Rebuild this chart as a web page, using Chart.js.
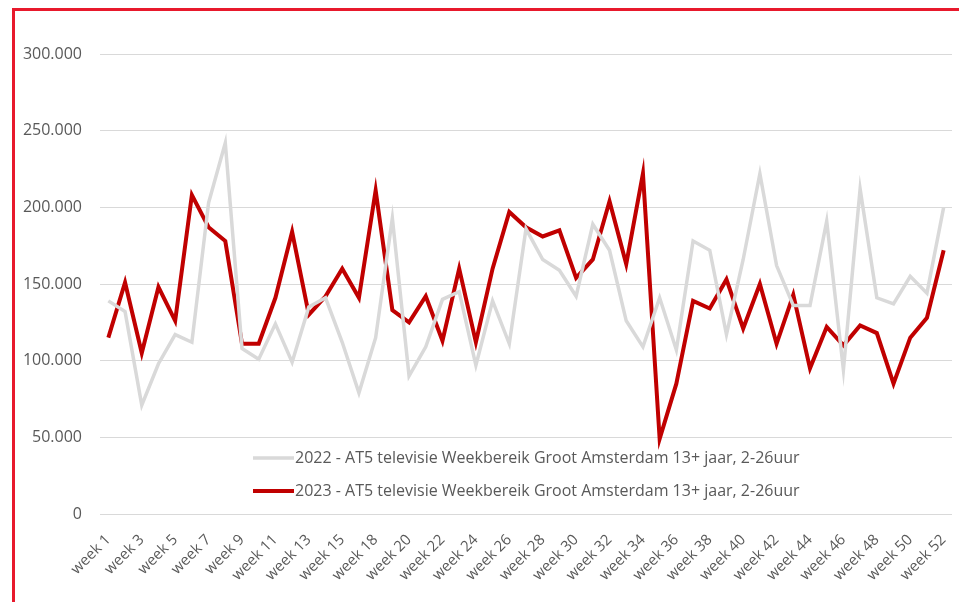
<!DOCTYPE html>
<html>
<head>
<meta charset="utf-8">
<script src="https://cdn.jsdelivr.net/npm/chart.js@4"></script>
<style>
  html, body { margin: 0; padding: 0; background: #fff; overflow: hidden; }
  #wrap { position: absolute; left: 0; top: 0; width: 959px; height: 602px; }
  #frame {
    position: absolute; left: 12px; top: 8px; width: 1000px; height: 700px;
    border: 3px solid #e8192c; box-sizing: border-box;
  }
  canvas { position: absolute; left: 0; top: 0; }
</style>
</head>
<body>
<div id="wrap">
  <div id="frame"></div>
  <canvas id="myChart" width="959" height="602"></canvas>
</div>
<script>
// weeks on the x axis (week 17 is not in the source table)
const weeks = [
  'week 1', 'week 2', 'week 3', 'week 4', 'week 5', 'week 6', 'week 7', 'week 8',
  'week 9', 'week 10', 'week 11', 'week 12', 'week 13', 'week 14', 'week 15', 'week 16',
  'week 18', 'week 19', 'week 20', 'week 21', 'week 22', 'week 23', 'week 24', 'week 25',
  'week 26', 'week 27', 'week 28', 'week 29', 'week 30', 'week 31', 'week 32', 'week 33',
  'week 34', 'week 35', 'week 36', 'week 37', 'week 38', 'week 39', 'week 40', 'week 41',
  'week 42', 'week 43', 'week 44', 'week 45', 'week 46', 'week 47', 'week 48', 'week 49',
  'week 50', 'week 51', 'week 52'
];

// weekly reach 2022 (grey line)
const reach2022 = [
  139000, 132000, 71000, 98000, 117000, 112000, 203000, 242000, 108000, 101000,
  124000, 99000, 135000, 141000, 112000, 79000, 115000, 193000, 90000, 109000,
  140000, 145000, 97000, 139000, 111000, 186000, 166000, 159000, 142000, 189000,
  172000, 126000, 109000, 141000, 107000, 178000, 172000, 117000, 166000, 222000,
  162000, 136000, 136000, 191000, 94000, 212000, 141000, 137000, 155000, 144000,
  200000
];

// weekly reach 2023 (red line)
const reach2023 = [
  115000, 151000, 105000, 148000, 126000, 208000, 187000, 178000, 111000, 111000,
  141000, 184000, 130000, 142000, 160000, 141000, 211000, 133000, 125000, 142000,
  113000, 160000, 112000, 160000, 197000, 187000, 181000, 185000, 154000, 166000,
  204000, 163000, 222000, 49000, 85000, 139000, 134000, 153000, 121000, 150000,
  111000, 143000, 95000, 122000, 110000, 123000, 118000, 85000, 115000, 128000,
  172000
];

const label2022 = '2022 - AT5 televisie Weekbereik Groot Amsterdam 13+ jaar, 2-26uur';
const label2023 = '2023 - AT5 televisie Weekbereik Groot Amsterdam 13+ jaar, 2-26uur';

const yTicks = [0, 50000, 100000, 150000, 200000, 250000, 300000];

const textColor = '#595959';
const fontFamily = '"Open Sans", "Noto Sans", sans-serif';

// thousands with a dot, like the Dutch Excel chart
function formatNumber(v) {
  return String(v).replace(/\B(?=(\d{3})+(?!\d))/g, '.');
}

// legend drawn inside the plot, under the lines
const insideLegend = {
  id: 'insideLegend',
  afterDatasetsDraw(chart) {
    const ctx = chart.ctx;
    const area = chart.chartArea;
    const x0 = area.left + 153;
    const rows = [area.bottom - 56, area.bottom - 23];
    ctx.save();
    ctx.font = '16px ' + fontFamily;
    ctx.textBaseline = 'middle';
    ctx.textAlign = 'left';
    chart.data.datasets.forEach((ds, i) => {
      const y = rows[i];
      ctx.strokeStyle = ds.borderColor;
      ctx.lineWidth = ds.borderWidth;
      ctx.beginPath();
      ctx.moveTo(x0, y);
      ctx.lineTo(x0 + 41, y);
      ctx.stroke();
      ctx.fillStyle = textColor;
      ctx.fillText(ds.label, x0 + 42, y);
    });
    ctx.restore();
  }
};

function renderChart(ctx) {
  return new Chart(ctx, {
    type: 'line',
    data: {
      labels: weeks,
      datasets: [
        {
          label: label2022,
          data: reach2022,
          borderColor: '#d9d9d9',
          borderWidth: 3.5,
          pointRadius: 0,
          tension: 0
        },
        {
          label: label2023,
          data: reach2023,
          borderColor: '#c00000',
          borderWidth: 4,
          pointRadius: 0,
          tension: 0
        }
      ]
    },
    options: {
      responsive: false,
      animation: false,
      layout: { padding: { left: 14, right: 7, top: 54, bottom: 0 } },
      plugins: {
        legend: { display: false },
        tooltip: { enabled: false }
      },
      scales: {
        x: {
          offset: true,
          grid: { display: false },
          border: { display: false },
          ticks: {
            autoSkip: false,
            minRotation: 45,
            maxRotation: 45,
            padding: 9,
            color: textColor,
            font: { family: fontFamily, size: 15 },
            callback: (v, i) => (i % 2 === 0 ? weeks[i] : '')
          },
          afterFit: (scale) => {
            scale.height = 88;
            scale.paddingLeft = 0;
            scale.paddingRight = 0;
          }
        },
        y: {
          min: 0,
          max: 300000,
          afterBuildTicks: (scale) => { scale.ticks = yTicks.map(v => ({ value: v })); },
          grid: { color: '#d9d9d9', lineWidth: 1, drawTicks: false },
          border: { display: false },
          ticks: {
            padding: 18,
            color: textColor,
            font: { family: fontFamily, size: 16 },
            callback: (v) => formatNumber(v)
          },
          afterFit: (scale) => { scale.width = 86; }
        }
      }
    },
    plugins: [insideLegend]
  });
}

window.onload = () => {
  const ctx = document.getElementById('myChart').getContext('2d');
  renderChart(ctx);
};
</script>
</body>
</html>
